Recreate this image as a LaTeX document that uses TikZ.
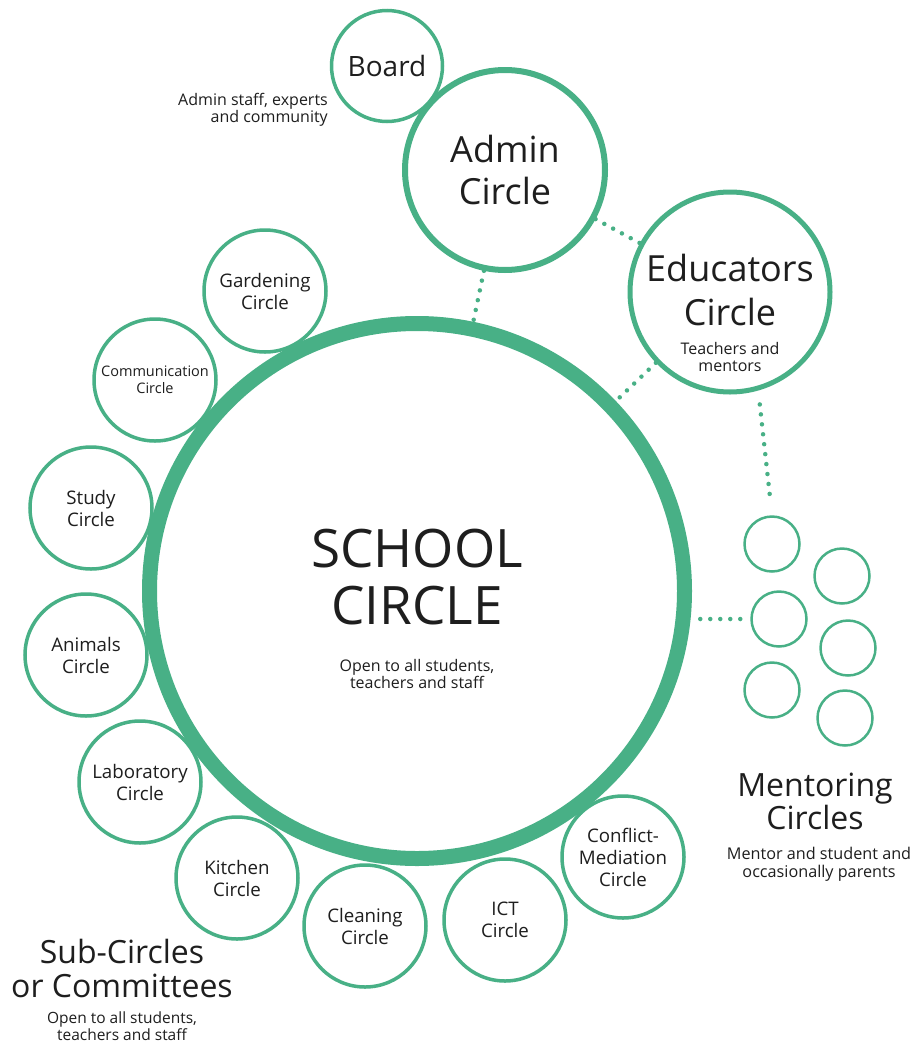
\documentclass[tikz,border=0pt]{standalone}
\usepackage{fontspec}
\setmainfont{Open Sans}
\definecolor{cgreen}{RGB}{72,176,134}
\definecolor{ctext}{RGB}{30,30,30}
\tikzset{
  ring/.style={circle, draw=cgreen, inner sep=0pt, fill=white},
  sub/.style={ring, line width=3.5pt, minimum size=122pt, align=center, text=ctext, font=\fontsize{18.7}{22}\selectfont},
  ment/.style={ring, line width=2.5pt, minimum size=55pt},
  lbl/.style={align=center, text=ctext, inner sep=0pt},
  small/.style={font=\fontsize{16}{17.5}\selectfont},
  dotline/.style={draw=cgreen, line width=4.5pt, dash pattern=on 0pt off 10pt, line cap=round}
}
\begin{document}
\begin{tikzpicture}[x=1pt,y=-1pt]
\useasboundingbox[fill=white] (0,0) rectangle (915,1047);

% main circles
\node[ring, line width=15pt, minimum size=535pt] (school) at (417,591) {};
\node[ring, line width=6pt, minimum size=200pt] (admin) at (505,170) {};
\node[ring, line width=3.5pt, minimum size=111pt] (board) at (387,66) {};
\node[ring, line width=5pt, minimum size=200pt] (edu) at (730,292) {};

% connectors
\draw[dotline] (admin) -- (school);
\draw[dotline] (admin) -- (edu);
\draw[dotline] (edu) -- (school);

% mentoring circles
\node[ment] (m1) at (772,544) {};
\node[ment] (m2) at (842,576) {};
\node[ment] (m3) at (779,619) {};
\node[ment] (m4) at (848,648) {};
\node[ment] (m5) at (772,690) {};
\node[ment] (m6) at (845,718) {};
\draw[dotline, shorten <=14pt, shorten >=13pt] (edu.-74) -- (m1.north);
\coordinate (sE) at (m3.west -| school.east);
\draw[dotline, shorten <=10pt, shorten >=3pt] (m3.west) -- (sE);

% sub-circles
\node[sub] (garden) at (265,291) {Gardening\\Circle};
\node[sub, font=\fontsize{14.5}{17}\selectfont] (comm) at (155,380) {Communication\\Circle};
\node[sub] (study) at (91,508) {Study\\Circle};
\node[sub] (animals) at (86,655) {Animals\\Circle};
\node[sub] (lab) at (140,782) {Laboratory\\Circle};
\node[sub] (kitchen) at (237,878) {Kitchen\\Circle};
\node[sub] (clean) at (365,926) {Cleaning\\Circle};
\node[sub] (ict) at (505,920) {ICT\\Circle};
\node[sub] (conflict) at (623,857) {Conflict-\\Mediation\\Circle};

% texts
\node[lbl, font=\fontsize{53}{57}\selectfont] (schoolt) at (417,577) {SCHOOL\\CIRCLE};
\node[lbl, small] (schools) at (417,674) {Open to all students,\\teachers and staff};
\node[lbl, font=\fontsize{36}{42}\selectfont] (admint) at (505,170) {Admin\\Circle};
\node[lbl, font=\fontsize{28}{32}\selectfont] (boardt) at (387,66) {Board};
\node[lbl, small, align=right, anchor=east, font=\fontsize{16}{16.5}\selectfont] (boards) at (328,110) {Admin staff, experts\\and community};
\node[lbl, font=\fontsize{36}{44}\selectfont] (edut) at (730,290) {Educators\\Circle};
\node[lbl, small] (edus) at (730,357) {Teachers and\\mentors};
\node[lbl, font=\fontsize{32}{33}\selectfont] (mentt) at (815,801) {Mentoring\\Circles};
\node[lbl, small, font=\fontsize{16.2}{18}\selectfont] (ments) at (819,864) {Mentor and student and\\occasionally parents};
\node[lbl, font=\fontsize{32}{34}\selectfont] (subt) at (122,968) {Sub-Circles\\or Committees};
\node[lbl, small, font=\fontsize{15.5}{17}\selectfont] (subs) at (122,1026) {Open to all students,\\teachers and staff};
\end{tikzpicture}
\end{document}
